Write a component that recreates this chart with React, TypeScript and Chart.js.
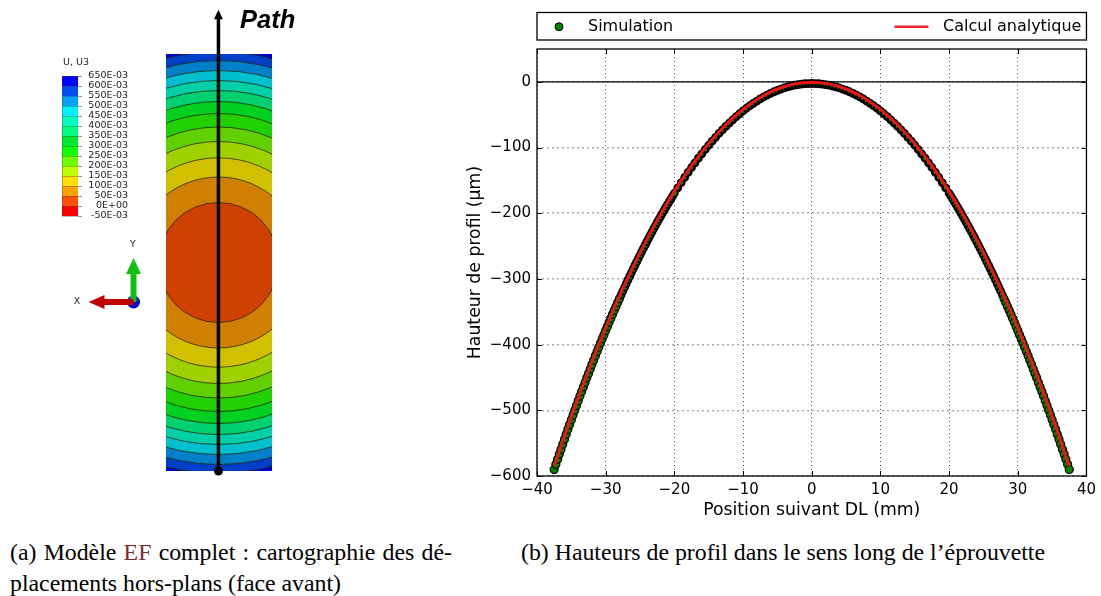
import { useEffect, useRef } from "react";
import { Chart, registerables } from "chart.js";

Chart.register(...registerables);

// ---------- Profile chart data ----------
const xTickValues = [-40, -30, -20, -10, 0, 10, 20, 30, 40];
const yTickValues = [-600, -500, -400, -300, -200, -100, 0];

const simHalfX = [
  0, 0.5, 1, 1.5, 2, 2.5, 3, 3.5, 4, 4.5, 5, 5.5, 6, 6.5, 7, 7.5, 8, 8.5, 9, 9.5, 10, 10.5, 11, 11.5, 12, 12.5, 13,
  13.5, 14, 14.5, 15, 15.5, 16, 16.5, 17, 17.5, 18, 18.5, 19, 19.5, 20, 20.25, 20.5, 20.75, 21, 21.25, 21.5, 21.75, 22,
  22.25, 22.5, 22.75, 23, 23.25, 23.5, 23.75, 24, 24.25, 24.5, 24.75, 25, 25.25, 25.5, 25.75, 26, 26.25, 26.5, 26.75,
  27, 27.25, 27.5, 27.75, 28, 28.25, 28.5, 28.75, 29, 29.25, 29.5, 29.75, 30, 30.25, 30.5, 30.75, 31, 31.25, 31.5,
  31.75, 32, 32.25, 32.5, 32.75, 33, 33.25, 33.5, 33.75, 34, 34.25, 34.5, 34.75, 35, 35.25, 35.5, 35.75, 36, 36.25,
  36.5, 36.75, 37, 37.25, 37.5,
];
const simHalfDepth = [
  2.5, 2.6, 2.9, 3.4, 4.2, 5.1, 6.3, 7.6, 9.2, 11, 13, 15.1, 17.5, 20.2, 23, 26, 29.2, 32.7, 36.3, 40.2, 44.3, 48.6, 53,
  57.8, 62.7, 67.8, 73.1, 78.6, 84.4, 90.3, 96.5, 102.9, 109.5, 116.2, 123.2, 130.4, 137.9, 145.5, 153.3, 161.4, 169.6,
  173.8, 178.1, 182.4, 186.7, 191.2, 195.6, 200.1, 204.7, 209.3, 214, 218.7, 223.5, 228.3, 233.2, 238.2, 243.1, 248.2,
  253.3, 258.4, 263.6, 268.9, 274.2, 279.5, 284.9, 290.4, 295.9, 301.4, 307.1, 312.7, 318.4, 324.2, 330, 335.9, 341.8,
  347.8, 353.9, 359.9, 366.1, 372.3, 378.5, 384.8, 391.1, 397.5, 404, 410.5, 417, 423.7, 430.3, 437, 443.8, 450.6,
  457.5, 464.4, 471.4, 478.4, 485.5, 492.6, 499.8, 507, 514.3, 521.6, 529, 536.5, 544, 551.5, 559.1, 566.7, 574.4,
  582.2, 590,
];
const analyticHalfX = [0, 2.5, 5, 7.5, 10, 12.5, 15, 17.5, 20, 22.5, 25, 27.5, 30, 32.5, 35, 37.5];
const analyticHalfDepth = [0.5, 3.1, 10.9, 23.9, 42.1, 65.4, 94, 127.8, 166.7, 210.9, 260.3, 314.8, 374.5, 439.5, 509.6, 584.9];

// ---------- FE contour map data (concentric iso-displacement circles) ----------
const contourRadii = [320, 211, 202, 192, 182, 172, 161, 149, 135.5, 121, 104.7, 85.5, 60];
const contourColors = [
  "#0000d0", "#0040c8", "#0080c8", "#00c0d0", "#00d0a8", "#00d070", "#00d020",
  "#20d000", "#60d000", "#a0d000", "#d0c000", "#d08000", "#d04000",
];
const scaleLabels = [
  "650E-03", "600E-03", "550E-03", "500E-03", "450E-03", "400E-03", "350E-03", "300E-03",
  "250E-03", "200E-03", "150E-03", "100E-03", "50E-03", "0E+00", "-50E-03",
];
const scaleColors = [
  "#0000ff", "#0050f0", "#00a0ff", "#00f0ff", "#00ffc0", "#00ff80", "#00e830",
  "#10ff00", "#70ff00", "#c0ff00", "#ffe000", "#ffa000", "#ff5000", "#ff0000",
];
const pathY = [-37.5, 44.3];

const FONT = '"DejaVu Sans"';

const mirror = (xs: number[], ds: number[]) => {
  const out: { x: number; y: number }[] = [];
  for (let i = xs.length - 1; i > 0; i--) out.push({ x: -xs[i], y: -ds[i] });
  for (let i = 0; i < xs.length; i++) out.push({ x: xs[i], y: -ds[i] });
  return out;
};

const simRadius = (c: any) => {
  const a = Math.abs(c.raw?.x ?? 0);
  return a < 20 ? 3.2 : a < 28 ? 3.5 : 4;
};
const simEdge = (c: any) => {
  const a = Math.abs(c.raw?.x ?? 0);
  return a < 20 ? 2.4 : a < 28 ? 1.8 : 1.2;
};

const profileDecor = {
  id: "profileDecor",
  afterDatasetsDraw(chart: any) {
    const { ctx, chartArea: a, scales } = chart;
    ctx.save();
    ctx.strokeStyle = "#000";
    ctx.lineWidth = 1;
    ctx.beginPath();
    for (const v of xTickValues) {
      const p = Math.round(scales.x.getPixelForValue(v)) + 0.5;
      ctx.moveTo(p, a.bottom); ctx.lineTo(p, a.bottom - 5);
      ctx.moveTo(p, a.top); ctx.lineTo(p, a.top + 5);
    }
    for (const v of yTickValues) {
      const p = Math.round(scales.y.getPixelForValue(v)) + 0.5;
      ctx.moveTo(a.left, p); ctx.lineTo(a.left + 5, p);
      ctx.moveTo(a.right, p); ctx.lineTo(a.right - 5, p);
    }
    ctx.stroke();
    ctx.lineWidth = 1.3;
    ctx.strokeRect(a.left, a.top, a.right - a.left, a.bottom - a.top);

    // legend in "expand" layout above the axes
    const top = 12.5, h = 27.5, mid = top + h / 2 + 0.5;
    ctx.strokeRect(a.left, top, a.right - a.left, h);
    const sim = chart.data.datasets[1];
    const ana = chart.data.datasets[0];
    ctx.beginPath();
    ctx.arc(a.left + 22, mid, 4, 0, Math.PI * 2);
    ctx.fillStyle = sim.pointBackgroundColor;
    ctx.fill();
    ctx.strokeStyle = "#000";
    ctx.lineWidth = 1;
    ctx.stroke();
    ctx.strokeStyle = "#ff2030";
    ctx.lineWidth = 2.5;
    ctx.beginPath();
    ctx.moveTo(a.right - 192, mid); ctx.lineTo(a.right - 158, mid);
    ctx.stroke();
    ctx.fillStyle = "#000";
    ctx.font = `16px ${FONT}`;
    ctx.textBaseline = "middle";
    ctx.textAlign = "left";
    ctx.fillText(sim.label, a.left + 51, mid);
    ctx.textAlign = "right";
    ctx.fillText(ana.label, a.right - 5, mid);
    ctx.restore();
  },
};

const modelDecor = {
  id: "modelDecor",
  afterDraw(chart: any) {
    const { ctx, scales } = chart;
    ctx.save();
    // Path arrow head (outside the plot area, anchored to the path's last point)
    const hx = scales.x.getPixelForValue(0);
    const hy = scales.y.getPixelForValue(pathY[1]);
    ctx.fillStyle = "#000";
    ctx.beginPath();
    ctx.moveTo(hx, hy - 6.5); ctx.lineTo(hx - 4.5, hy + 3); ctx.lineTo(hx + 4.5, hy + 3); ctx.closePath(); ctx.fill();

    // Colour scale
    const sx = 62, sy = 76, sw = 16, sh = 10;
    scaleColors.forEach((c, i) => {
      ctx.fillStyle = c;
      ctx.fillRect(sx, sy + i * sh, sw, sh);
    });
    ctx.strokeStyle = "rgba(60,60,60,0.35)";
    ctx.lineWidth = 1;
    ctx.beginPath();
    scaleLabels.forEach((_, i) => {
      const y = sy + i * sh + 0.5;
      ctx.moveTo(sx, y); ctx.lineTo(sx + sw, y);
    });
    ctx.moveTo(sx + 0.5, sy); ctx.lineTo(sx + 0.5, sy + 140);
    ctx.stroke();
    ctx.strokeStyle = "#999";
    ctx.beginPath();
    scaleLabels.forEach((_, i) => {
      const y = sy + i * sh + 0.5;
      ctx.moveTo(sx + sw, y); ctx.lineTo(sx + sw + 4, y);
    });
    ctx.stroke();
    ctx.fillStyle = "#222";
    ctx.font = `9.5px ${FONT}`;
    ctx.textBaseline = "middle";
    ctx.textAlign = "right";
    scaleLabels.forEach((t, i) => ctx.fillText(t, 128, sy + i * sh));
    ctx.textAlign = "left";
    ctx.fillText("U, U3", 63, 63);
    ctx.textAlign = "center";
    ctx.fillText("Y", 133, 245);
    ctx.fillText("X", 77, 302);

    // Axis triad
    const ox = 133.5, oy = 302;
    ctx.fillStyle = "#0000d0";
    ctx.beginPath(); ctx.arc(ox, oy, 6.5, 0, Math.PI * 2); ctx.fill();
    ctx.fillStyle = "#10c010";
    ctx.fillRect(ox - 3, oy - 29, 6, 29);
    ctx.beginPath();
    ctx.moveTo(ox, oy - 44); ctx.lineTo(ox - 7.5, oy - 28); ctx.lineTo(ox + 7.5, oy - 28); ctx.closePath(); ctx.fill();
    ctx.fillStyle = "#c00000";
    ctx.fillRect(ox - 30, oy - 3, 30, 6);
    ctx.beginPath();
    ctx.moveTo(ox - 45, oy); ctx.lineTo(ox - 29, oy - 7); ctx.lineTo(ox - 29, oy + 7); ctx.closePath(); ctx.fill();

    ctx.fillStyle = "#000";
    ctx.font = 'italic bold 25.5px "Liberation Sans"';
    ctx.textAlign = "left";
    ctx.textBaseline = "alphabetic";
    ctx.fillText("Path", 240, 28);
    ctx.restore();
  },
};

export default function App() {
  const modelRef = useRef<HTMLCanvasElement>(null);
  const profileRef = useRef<HTMLCanvasElement>(null);

  useEffect(() => {
    const model = new Chart(modelRef.current as HTMLCanvasElement, {
      type: "bubble",
      data: {
        datasets: [
          {
            type: "line",
            data: pathY.map((y) => ({ x: 0, y })),
            borderColor: "#000",
            borderWidth: 3.5,
            pointStyle: "circle",
            pointRadius: [4.5, 0],
            pointBackgroundColor: "#000",
            pointBorderColor: "#000",
            pointBorderWidth: 0,
            clip: false,
          } as any,
          {
            data: contourRadii.map((r) => ({ x: 0, y: 0, r })),
            backgroundColor: contourColors,
            borderColor: contourRadii.map((_, i) => (i === 0 ? "rgba(0,0,0,0)" : "rgba(40,30,0,0.75)")),
            borderWidth: 1,
            clip: 0,
          } as any,
        ],
      },
      options: {
        responsive: false,
        animation: false,
        devicePixelRatio: 1,
        layout: { autoPadding: false, padding: { left: 166, right: 188, top: 54, bottom: 59 } },
        plugins: { legend: { display: false }, tooltip: { enabled: false } },
        scales: {
          x: { type: "linear", display: false, min: -9.4, max: 9.6 },
          y: { type: "linear", display: false, min: -37.5, max: 37.5 },
        },
      },
      plugins: [modelDecor],
    } as any);

    const profile = new Chart(profileRef.current as HTMLCanvasElement, {
      type: "line",
      data: {
        datasets: [
          {
            label: "Calcul analytique",
            data: mirror(analyticHalfX, analyticHalfDepth),
            borderColor: "#f01414",
            borderWidth: 3,
            pointRadius: 0,
            cubicInterpolationMode: "monotone",
          },
          {
            label: "Simulation",
            data: mirror(simHalfX, simHalfDepth),
            showLine: false,
            pointRadius: simRadius,
            pointBackgroundColor: "#007f00",
            pointBorderColor: "#000",
            pointBorderWidth: simEdge,
          },
          {
            label: "",
            data: [{ x: -40, y: 0 }, { x: 40, y: 0 }],
            borderColor: "#000",
            borderWidth: 1.2,
            pointRadius: 0,
          },
        ],
      },
      options: {
        responsive: false,
        animation: false,
        devicePixelRatio: 1,
        layout: { padding: { top: 49, right: 12, left: 0, bottom: 0 } },
        plugins: { legend: { display: false }, tooltip: { enabled: false } },
        scales: {
          x: {
            type: "linear",
            min: -40,
            max: 40,
            afterBuildTicks: (s: any) => { s.ticks = xTickValues.map((value) => ({ value })); },
            afterFit: (s: any) => { s.height = 54; },
            grid: { color: "#555", drawTicks: false, tickLength: 0 } as any,
            border: { display: false, dash: [1, 3] },
            ticks: {
              color: "#000", padding: 5, maxRotation: 0, autoSkip: false,
              font: { family: "DejaVu Sans", size: 15 },
              callback: (v: any) => String(v).replace("-", "\u2212"),
            },
            title: {
              display: true, text: "Position suivant DL (mm)", color: "#000",
              font: { family: "DejaVu Sans", size: 17.3 }, padding: { top: 2, bottom: 9 },
            },
          },
          y: {
            type: "linear",
            min: -600,
            max: 50,
            afterBuildTicks: (s: any) => { s.ticks = yTickValues.map((value) => ({ value })); },
            afterFit: (s: any) => { s.width = 77; },
            grid: { color: "#aaa", lineWidth: 1.5, drawTicks: false, tickLength: 0 } as any,
            border: { display: false, dash: [2, 3] },
            ticks: {
              color: "#000", padding: 6, autoSkip: false,
              font: { family: "DejaVu Sans", size: 15 },
              callback: (v: any) => String(v).replace("-", "\u2212"),
            },
            title: {
              display: true, text: "Hauteur de profil (\u00b5m)", color: "#000",
              font: { family: "DejaVu Sans", size: 17.3 }, padding: { top: 5, bottom: 0 },
            },
          },
        },
      },
      plugins: [profileDecor],
    } as any);

    return () => {
      model.destroy();
      profile.destroy();
    };
  }, []);

  const cap: React.CSSProperties = {
    position: "absolute",
    fontFamily: '"Liberation Serif", serif',
    fontSize: 23.8,
    lineHeight: "24px",
    whiteSpace: "nowrap",
    color: "#000",
  };

  return (
    <div style={{ position: "absolute", left: 0, top: 0, width: 1101, height: 596, overflow: "hidden", background: "#fff" }}>
      <canvas ref={modelRef} width={460} height={530} style={{ position: "absolute", left: 0, top: 0, width: 460, height: 530 }} />
      <canvas ref={profileRef} width={641} height={530} style={{ position: "absolute", left: 460, top: 0, width: 641, height: 530 }} />
      <div style={{ ...cap, left: 10, top: 540, wordSpacing: 1.3 }}>
        (a) Modèle <span style={{ color: "#7a2b2b" }}>EF</span> complet : cartographie des dé-
      </div>
      <div style={{ ...cap, left: 10, top: 571 }}>placements hors-plans (face avant)</div>
      <div style={{ ...cap, left: 521, top: 540 }}>(b) Hauteurs de profil dans le sens long de l’éprouvette</div>
    </div>
  );
}
